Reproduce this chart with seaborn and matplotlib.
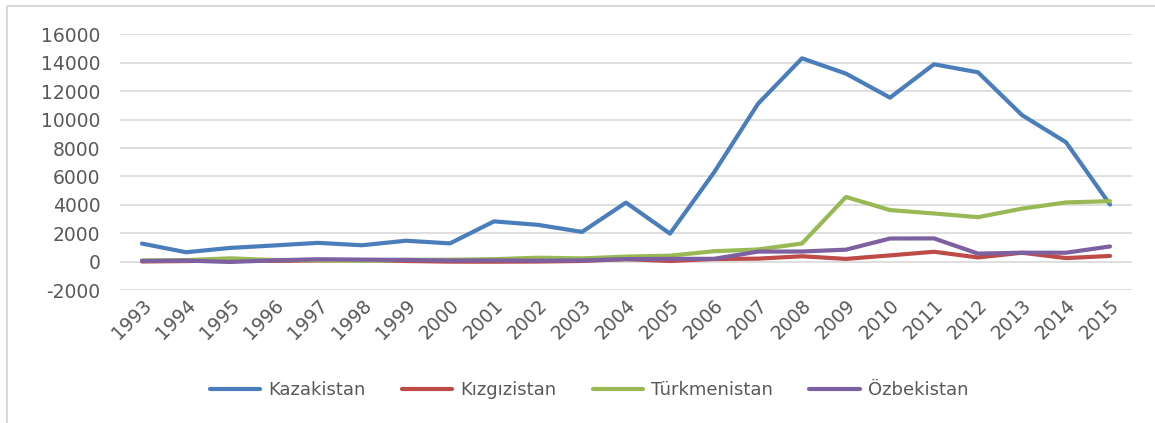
import matplotlib
matplotlib.use("Agg")
import matplotlib.pyplot as plt
import seaborn as sns
import pandas as pd
from matplotlib.lines import Line2D

# yıllık veriler (milyon dolar)
years = list(range(1993, 2016))
kazakistan = [1271, 660, 964, 1137, 1321, 1152, 1472, 1283, 2835, 2590, 2092, 4157,
              1971, 6278, 11119, 14322, 13243, 11551, 13903, 13337, 10321, 8407, 4021]
kizgizistan = [10, 38, 96, 47, 83, 109, 44, -2, -6, 5, 46, 175,
               43, 182, 208, 377, 189, 438, 694, 293, 626, 248, 400]
turkmenistan = [79, 103, 233, 108, 108, 62, 125, 131, 170, 276, 226, 354,
                418, 731, 856, 1277, 4553, 3631, 3391, 3130, 3732, 4170, 4259]
ozbekistan = [48, 73, -24, 90, 167, 140, 121, 75, 83, 65, 83, 177,
              192, 195, 705, 711, 842, 1628, 1635, 563, 628, 626, 1068]

countries = ["Kazakistan", "Kızgızistan", "Türkmenistan", "Özbekistan"]
colors = ["#4A7EBB", "#BE4B48", "#98B954", "#7D60A0"]

df = pd.DataFrame({
    "Yıl": years * 4,
    "Ülke": sum([[c] * len(years) for c in countries], []),
    "Değer": kazakistan + kizgizistan + turkmenistan + ozbekistan,
})

sns.set_theme(style="white")
plt.rcParams["font.family"] = ["DejaVu Sans"]
plt.rcParams["axes.unicode_minus"] = False

W, H = 1155, 423
fig = plt.figure(figsize=(W / 100, H / 100), dpi=100)
ax = fig.add_axes([120 / W, 1 - 290 / H, (1132 - 120) / W, (290 - 34.5) / H])

sns.lineplot(data=df, x="Yıl", y="Değer", hue="Ülke", hue_order=countries,
             palette=colors, linewidth=3.0, ax=ax)

ax.set_xlim(1992.5, 2015.5)
ax.set_ylim(-2000, 16000)
ax.set_yticks(range(-2000, 16001, 2000))
ax.set_xticks(years)
ax.set_xticklabels([str(y) for y in years], rotation=45, ha="right",
                   rotation_mode="anchor")
ax.yaxis.grid(True, color="#DCDCDC", lw=1.3)
ax.xaxis.grid(False)
for s in ax.spines.values():
    s.set_visible(False)
ax.tick_params(length=0, colors="#595959", labelsize=13.5)
ax.tick_params(axis="y", pad=14)
ax.tick_params(axis="x", pad=4)
ax.set_xlabel("")
ax.set_ylabel("")

handles, labels = ax.get_legend_handles_labels()
ax.get_legend().remove()
fig.legend(handles, labels, loc="center", bbox_to_anchor=(589 / W, 1 - 390 / H),
           ncol=4, frameon=False, handlelength=2.8, columnspacing=2.0,
           handletextpad=0.45, fontsize=13, labelcolor="#595959")

# grafik çerçevesi
fig.add_artist(Line2D([7 / W, 1], [1 - 6 / H] * 2, color="#D9D9D9", lw=1.5,
                      solid_capstyle="butt"))
fig.add_artist(Line2D([7 / W] * 2, [0, 1 - 6 / H], color="#D9D9D9", lw=1.5,
                      solid_capstyle="butt"))

fig.savefig("out.png", dpi=100)
